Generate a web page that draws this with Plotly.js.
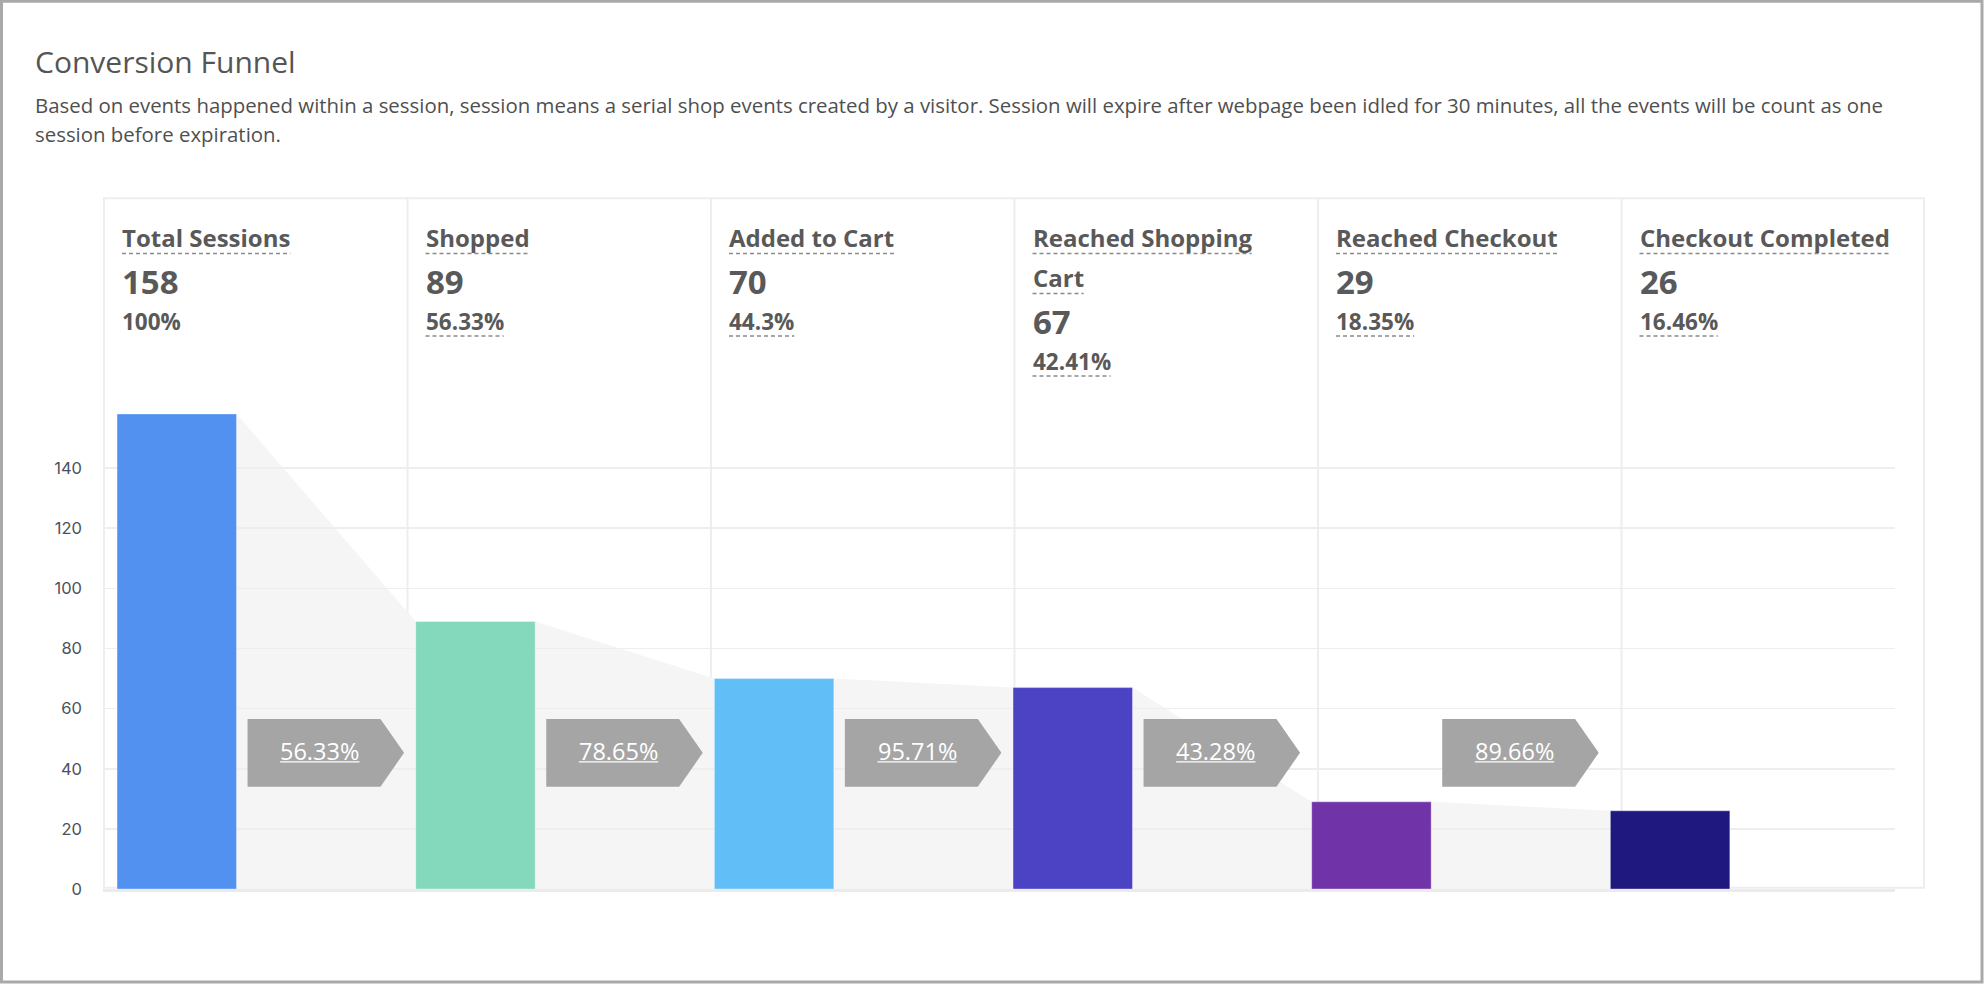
<!DOCTYPE html>
<html>
<head>
<meta charset="utf-8">
<script src="https://cdn.plot.ly/plotly-3.0.1.min.js"></script>
<style>
  html, body { margin: 0; padding: 0; background: #ffffff; }
  #chart { width: 1984px; height: 984px; }
</style>
</head>
<body>
<div id="chart"></div>
<script>
// ---- data ----
const stages = ['Total Sessions', 'Shopped', 'Added to Cart', 'Reached Shopping Cart', 'Reached Checkout', 'Checkout Completed'];
const sessions = [158, 89, 70, 67, 29, 26];
const barColors = ['#5291f0', '#84d9bd', '#62bef7', '#4b43c3', '#7034a8', '#1f187f'];
const yTicks = [0, 20, 40, 60, 80, 100, 120, 140];
const chartTitle = 'Conversion Funnel';
const descLines = [
  'Based on events happened within a session, session means a serial shop events created by a visitor. Session will expire after webpage been idled for 30 minutes, all the events will be count as one',
  'session before expiration.'
];

// ---- page geometry (pixels) ----
const W = 1984, H = 984;
const M = { l: 103, r: 89, t: 414, b: 95 };
const PW = W - M.l - M.r, PH = H - M.t - M.b;
const px = x => (x - M.l) / PW;          // pixel x -> paper x
const py = y => (H - M.b - y) / PH;      // pixel y -> paper y
const xPix = v => M.l + v * PW / stages.length;

const BAR_OFF = 0.047, BAR_W = 0.4;
const COL0 = 104, COL_W = 303.5, COL_PAD = 18;
const TEXT = '#595959';
const FONT = 'Open Sans';

const pct = (a, b) => parseFloat((a / b * 100).toFixed(2)) + '%';

const ctx = document.createElement('canvas').getContext('2d');
function textWidth(t, size, weight) {
  ctx.font = weight + ' ' + size + 'px "' + FONT + '"';
  return ctx.measureText(t).width;
}

const annotations = [];
const shapes = [];

// one line of text placed by its baseline
function textLine(text, x, baseline, size, weight, color, anchor) {
  annotations.push({
    xref: 'paper', yref: 'paper', x: px(x), y: py(baseline - 0.388 * size),
    xanchor: anchor || 'left', yanchor: 'middle', showarrow: false,
    borderpad: 0, borderwidth: 0, text: text,
    font: { family: FONT, size: size, weight: weight, color: color }
  });
}
function underline(x0, x1, y, color, width, dash) {
  shapes.push({
    type: 'line', xref: 'paper', yref: 'paper', layer: 'above',
    x0: px(x0), x1: px(x1), y0: py(y), y1: py(y),
    line: { color: color, width: width, dash: dash || 'solid' }
  });
}

// ---- heading ----
textLine(chartTitle, 35, 72.7, 30, 400, '#555555');
textLine(descLines[0], 35, 113.3, 20.4, 400, '#4f4f4f');
textLine(descLines[1], 35, 141.8, 20.4, 400, '#4f4f4f');

// ---- funnel shading between neighbouring bars ----
for (let i = 0; i < sessions.length - 1; i++) {
  const xa = i + BAR_OFF + BAR_W, xb = i + 1 + BAR_OFF;
  shapes.push({
    type: 'path', xref: 'x', yref: 'y', layer: 'below',
    path: `M ${xa},0 L ${xa},${sessions[i]} L ${xb},${sessions[i + 1]} L ${xb},0 Z`,
    fillcolor: '#f5f5f5', line: { width: 0 }
  });
}

// ---- card frame and column separators ----
shapes.push({
  type: 'rect', xref: 'paper', yref: 'paper', layer: 'below',
  x0: px(104), x1: px(1924), y0: py(887.7), y1: py(198.3),
  line: { color: '#eeeeee', width: 2 }, fillcolor: 'rgba(0,0,0,0)'
});
for (let k = 1; k < stages.length; k++) {
  const x = COL0 + k * COL_W;
  shapes.push({
    type: 'line', xref: 'paper', yref: 'paper', layer: 'below',
    x0: px(x), x1: px(x), y0: py(198.3), y1: py(889),
    line: { color: '#eeeeee', width: 2 }
  });
}

// ---- column headers ----
const TITLE_SIZE = 24, VALUE_SIZE = 33, PCT_SIZE = 22.5, MAX_TITLE_W = 262;
const DASH = { color: '#8a8a8a', width: 1.5, dash: '4px,3px' };
stages.forEach((name, i) => {
  const x = COL0 + i * COL_W + COL_PAD;
  // wrap the stage name to the column width
  const words = name.split(' ');
  const lines = [];
  let cur = '';
  words.forEach(w => {
    const t = cur ? cur + ' ' + w : w;
    if (cur && textWidth(t, TITLE_SIZE, 700) > MAX_TITLE_W) { lines.push(cur); cur = w; }
    else cur = t;
  });
  lines.push(cur);
  let base = 247.3;
  lines.forEach((ln, j) => {
    if (j > 0) base += 40;
    textLine(ln, x, base, TITLE_SIZE, 700, TEXT);
    underline(x, x + textWidth(ln, TITLE_SIZE, 700), base + 6.3, DASH.color, DASH.width, DASH.dash);
  });
  const vBase = base + 47;
  textLine(String(sessions[i]), x, vBase, VALUE_SIZE, 700, TEXT);
  const pBase = vBase + 36;
  const share = pct(sessions[i], sessions[0]);
  textLine(share, x, pBase, PCT_SIZE, 700, TEXT);
  if (i > 0) underline(x, x + textWidth(share, PCT_SIZE, 700), pBase + 5.6, DASH.color, DASH.width, DASH.dash);
});

// ---- step conversion arrows ----
const ARROW_TOP = 719, ARROW_BOT = 786.7, ARROW_MID = 752.8;
const RATE_SIZE = 23.5;
for (let i = 0; i < sessions.length - 1; i++) {
  const x0 = i + 0.484, x1 = i + 0.929, x2 = i + 1.008;
  shapes.push({
    type: 'path', xref: 'x', yref: 'paper', layer: 'above',
    path: `M ${x0},${py(ARROW_TOP)} L ${x1},${py(ARROW_TOP)} L ${x2},${py(ARROW_MID)} L ${x1},${py(ARROW_BOT)} L ${x0},${py(ARROW_BOT)} Z`,
    fillcolor: '#a5a5a5', line: { width: 0 }
  });
  const rate = pct(sessions[i + 1], sessions[i]);
  const cx = xPix(i + 0.726);
  textLine(rate, cx, 760, RATE_SIZE, 400, '#ffffff', 'center');
  const w = textWidth(rate, RATE_SIZE, 400);
  underline(cx - w / 2, cx + w / 2, 761.8, '#ffffff', 1.3);
}

// ---- outer border of the page ----
shapes.push({
  type: 'rect', xref: 'paper', yref: 'paper', layer: 'above',
  x0: px(1.5), x1: px(W - 2), y0: py(H - 2), y1: py(1.2),
  line: { color: '#a9a9a9', width: 3 }, fillcolor: 'rgba(0,0,0,0)'
});

const bars = {
  type: 'bar',
  x: stages.map((_, i) => i),
  y: sessions,
  offset: BAR_OFF,
  width: BAR_W,
  marker: { color: barColors, line: { color: 'rgba(255,255,255,0.35)', width: 1 } },
  hoverinfo: 'skip'
};

const layout = {
  width: W, height: H,
  margin: M,
  paper_bgcolor: '#ffffff', plot_bgcolor: 'rgba(0,0,0,0)',
  font: { family: FONT, color: TEXT },
  showlegend: false,
  hovermode: false,
  dragmode: false,
  xaxis: {
    range: [0, stages.length], showgrid: false, zeroline: false,
    showticklabels: false, ticks: '',
    showline: true, linecolor: '#ebebeb', linewidth: 3, fixedrange: true
  },
  yaxis: {
    range: [0, sessions[0]], tickvals: yTicks, ticktext: yTicks.map(String),
    showgrid: true, gridcolor: '#eeeeee', gridwidth: 1.5, zeroline: false,
    showline: false, ticks: '', ticklabelstandoff: 20,
    tickfont: { family: 'Inter', size: 16.5, color: '#4c505c' }, fixedrange: true
  },
  shapes: shapes,
  annotations: annotations
};

Plotly.newPlot('chart', [bars], layout, { displayModeBar: false, staticPlot: true });
</script>
</body>
</html>
